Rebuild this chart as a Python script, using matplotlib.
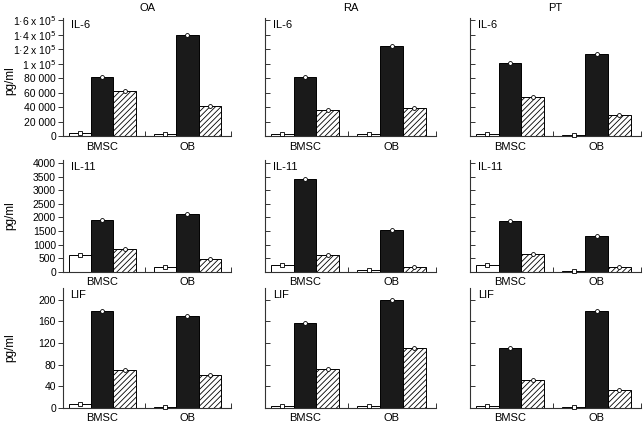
import numpy as np
import matplotlib
matplotlib.use("Agg")
import matplotlib.pyplot as plt

plt.rcParams['font.family'] = ['Liberation Sans', 'DejaVu Sans']
plt.rcParams['hatch.linewidth'] = 0.6

tissues = ['OA', 'RA', 'PT']
cytokines = ['IL-6', 'IL-11', 'LIF']
groups = ['BMSC', 'OB']

# each list: [BMSC (white, black, hatched)], [OB (white, black, hatched)]
il6_oa = [[4000, 81000, 62000], [3000, 140000, 42000]]
il6_ra = [[3000, 81000, 36500], [2500, 124000, 38500]]
il6_pt = [[2500, 101000, 54000], [1500, 113500, 28500]]

il11_oa = [[600, 1900, 850], [170, 2110, 450]]
il11_ra = [[240, 3420, 600], [80, 1530, 160]]
il11_pt = [[240, 1880, 650], [40, 1330, 160]]

lif_oa = [[7, 180, 70], [1, 170, 60]]
lif_ra = [[4, 157, 71], [3, 200, 111]]
lif_pt = [[3, 111, 51], [1, 179, 32]]

il6_ticks = [0, 20000, 40000, 60000, 80000, 100000, 120000, 140000, 160000]
il6_labels = ['0', '20 000', '40 000', '60 000', '80 000', '1 x 10$^5$',
              '1\u00b72 x 10$^5$', '1\u00b74 x 10$^5$', '1\u00b76 x 10$^5$']
il11_ticks = [0, 500, 1000, 1500, 2000, 2500, 3000, 3500, 4000]
il11_labels = [str(t) for t in il11_ticks]
lif_ticks = [0, 40, 80, 120, 160, 200]
lif_labels = [str(t) for t in lif_ticks]

data = [[il6_oa, il6_ra, il6_pt],
        [il11_oa, il11_ra, il11_pt],
        [lif_oa, lif_ra, lif_pt]]
ticks = [il6_ticks, il11_ticks, lif_ticks]
labels = [il6_labels, il11_labels, lif_labels]
ytop = [163000, 4110, 222]

W, H = 644, 423
fig = plt.figure(figsize=(W / 100, H / 100), dpi=100)

col_left = [63, 265, 470]
col_width = [168, 171, 171]
row_top = [18, 160, 288]
row_bottom = [136, 271.7, 407.7]
ylab_y = [0.47, 0.5, 0.5]

starts = [0.25, 4.05]
fills = ['white', '#1a1a1a', 'white']
hatches = [None, None, '//////']

for r in range(3):
    for c in range(3):
        ax = fig.add_axes([col_left[c] / W, (H - row_bottom[r]) / H,
                           col_width[c] / W, (row_bottom[r] - row_top[r]) / H])
        vals = data[r][c]
        for g in range(2):
            for k in range(3):
                x = starts[g] + k + 0.5
                ax.bar(x, vals[g][k], width=1.0, color=fills[k], edgecolor='black',
                       linewidth=0.7, hatch=hatches[k], zorder=2)
                mk = 's' if k == 0 else 'o'
                ax.plot(x, vals[g][k], mk, ms=2.8, mfc='white', mec='black',
                        mew=0.6, zorder=3, clip_on=False)
        ax.set_xlim(0, 7.5)
        ax.set_ylim(0, ytop[r])
        for s in ['top', 'right']:
            ax.spines[s].set_visible(False)
        for s in ['left', 'bottom']:
            ax.spines[s].set_linewidth(0.8)
            ax.spines[s].set_color('#333333')
        ax.set_yticks(ticks[r])
        if c == 0:
            ax.set_yticklabels(labels[r], fontsize=7.5)
            ax.set_ylabel('pg/ml', fontsize=8.5)
            ax.yaxis.set_label_coords(-0.28, ylab_y[r])
            ax.tick_params(axis='y', direction='out', length=3.5, width=0.7,
                           pad=1.5, color='#333333')
        else:
            ax.set_yticklabels([])
            ax.tick_params(axis='y', direction='in', length=3.5, width=0.7,
                           color='#333333')
        ax.set_xticks([1.75, 5.55])
        ax.set_xticklabels(groups, fontsize=8)
        ax.tick_params(axis='x', length=0, pad=4)
        ax.set_xticks([3.65, 7.5], minor=True)
        ax.tick_params(axis='x', which='minor', direction='in', length=3.5,
                       width=0.7, color='#333333')
        ax.text(0.045, 0.985, cytokines[r], transform=ax.transAxes, fontsize=8,
                va='top', ha='left')
        if r == 0:
            ax.set_title(tissues[c], fontsize=8, pad=5)

fig.savefig("out.png", dpi=100)
